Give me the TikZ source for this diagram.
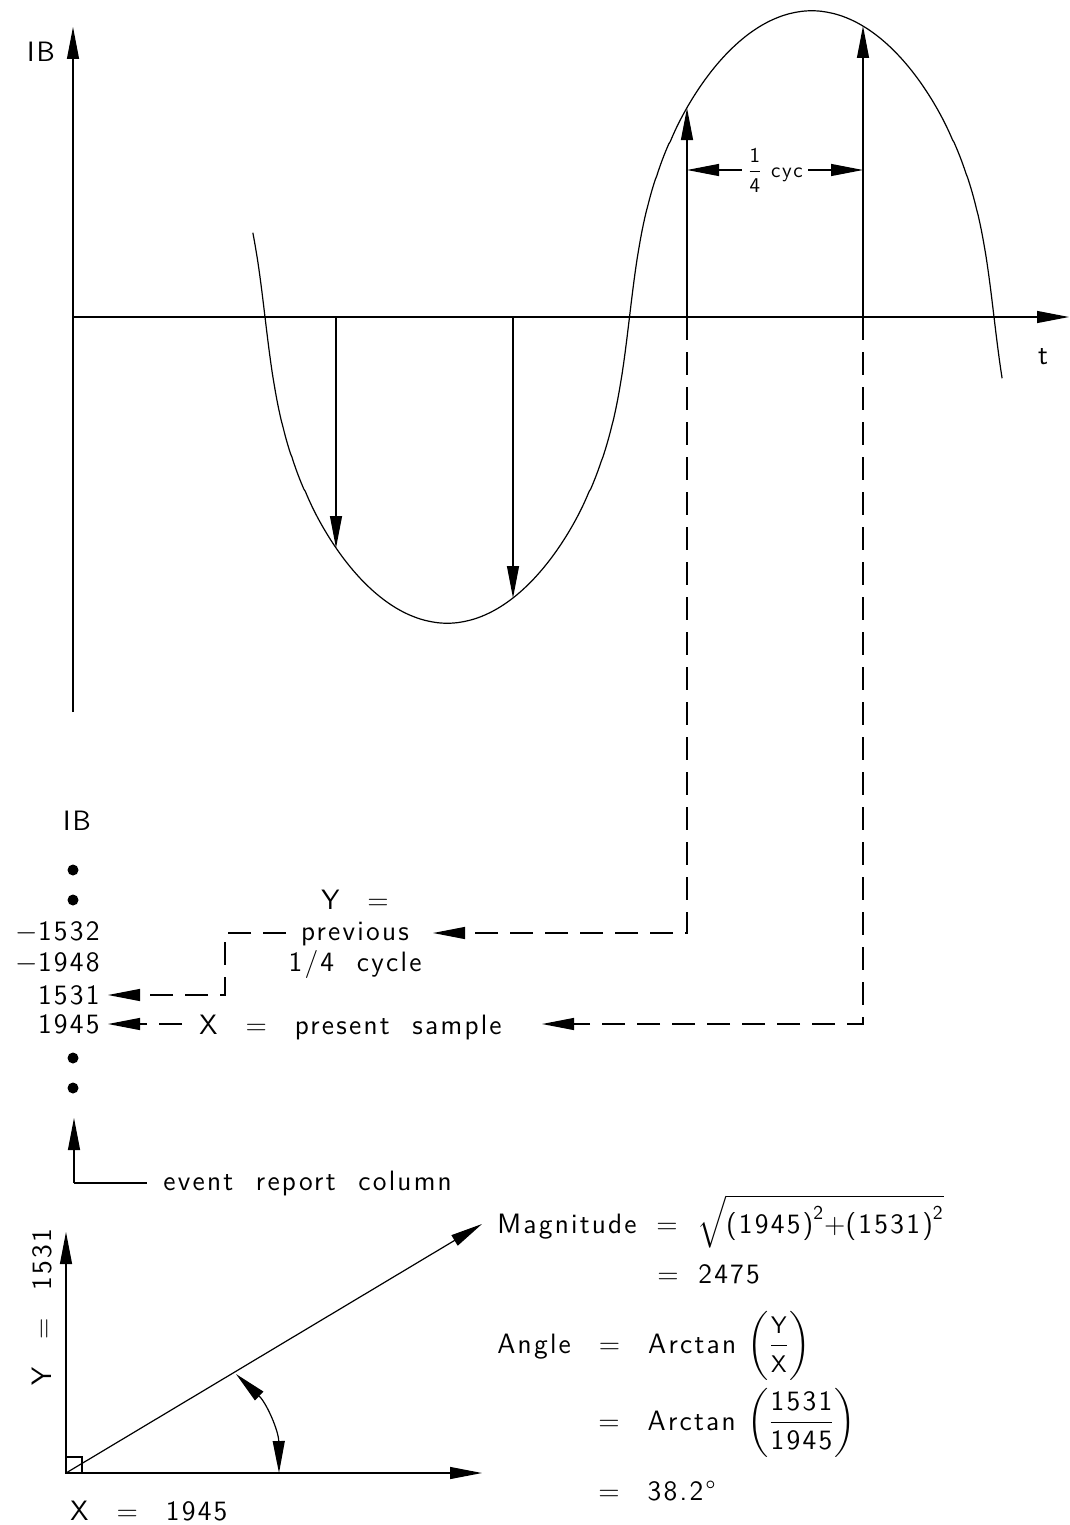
\documentclass[tikz,border=0pt]{standalone}
\usepackage{amsmath}
\usepackage{fontspec}
\setmainfont{Latin Modern Sans}[LetterSpace=8]
\usetikzlibrary{arrows.meta}

\begin{document}
\begin{tikzpicture}[x=0.5pt,y=-0.5pt,
   >={Triangle[length=16pt,width=6pt]},
   line/.style={line width=0.6pt},
   dashline/.style={line,dash pattern=on 11.5pt off 6pt},
   lbl/.style={inner sep=0pt,font=\fontsize{14}{15.5}\selectfont},
   dot/.style={circle,fill,inner sep=0pt,minimum size=5.5pt}
]
   \useasboundingbox (0,0) rectangle (1070,1525);

   % axes of the waveform
   \coordinate (o) at (73,317);
   \coordinate (ibtop) at (73,27);
   \coordinate (ibbot) at (73,712);
   \coordinate (tend) at (1069,317);
   \draw[line,->] (ibbot) -- (ibtop);
   \draw[line,->] (o) -- (tend);
   \node[lbl] (iblabel) at (41,52) {IB};
   \node[lbl] (tlabel) at (1043,357) {t};

   % waveform
   \draw[line] plot[domain=-6:364,samples=500,variable=\t]
      ({265+2.025*\t},{317+307*sin(\t)/pow(sin(\t)*sin(\t)+0.01,0.25)});

   % samples
   \foreach \n/\x/\y in {1/336/548,2/513/598,3/687/108,4/863/26} {
      \coordinate (a\n) at (\x,317);
      \coordinate (s\n) at (\x,\y);
      \draw[line,->] (a\n) -- (s\n);
   }

   % quarter cycle
   \node[font=\fontsize{10.5}{12}\selectfont,inner sep=2.5pt] (cyc) at (775,170)
      {$\dfrac{\text{1}}{\text{4}}$ cyc};
   \coordinate (c3) at (687,170);
   \coordinate (c4) at (863,170);
   \draw[line,->] (cyc.west) -- (c3);
   \draw[line,->] (cyc.east) -- (c4);

   % event report column
   \node[lbl] (ibcol) at (77,821) {IB};
   \foreach \y in {870,900,1058,1088}
      \node[dot] (d\y) at (73,\y) {};
   \node[lbl,anchor=east] (v1) at (100,932) {$-$1532};
   \node[lbl,anchor=east] (v2) at (100,963) {$-$1948};
   \node[lbl,anchor=east] (v3) at (100,995) {1531};
   \node[lbl,anchor=east] (v4) at (100,1024) {1945};
   \coordinate (n3) at (108,995);
   \coordinate (n4) at (108,1024);

   \node[lbl,align=center] (prev) at (355,934) {Y\quad=\\previous\\1/4\ \ cycle};
   \node[lbl,anchor=base west] (xlab) at (199,1034) {X\quad=\quad present\ \ sample};

   \coordinate (ytip) at (433,933);
   \coordinate (xtip) at (542,1024);
   \draw[dashline,->] (a3) |- (ytip);
   \draw[dashline,->] (a4) |- (xtip);
   \coordinate (yb) at (286,933);
   \coordinate (yc) at (225,995);
   \coordinate (xb) at (182,1024);
   \draw[dashline,->] (yb) -| (yc) -- (n3);
   \draw[dashline,->] (xb) -- (n4);

   \coordinate (ev) at (74,1183);
   \coordinate (evtip) at (74,1118);
   \coordinate (evend) at (147,1183);
   \draw[line,->] (ev) -- (evtip);
   \draw[line] (ev) -- (evend);
   \node[lbl,anchor=base west] (evtext) at (163,1190) {event\ \ report\ \ column};

   % phasor
   \coordinate (p0) at (66,1473);
   \coordinate (py) at (66,1232);
   \coordinate (px) at (482,1473);
   \coordinate (pv) at (482,1224);
   \draw[line,->] (p0) -- (py);
   \draw[line,->] (p0) -- (px);
   \draw[line,->] (p0) -- (pv);
   \draw[line] (p0) rectangle ++(16,-16);
   \coordinate (arcv) at (236,1374);
   \coordinate (arcx) at (279,1473);
   \draw[line,<->] (arcv) to[bend left=23] (arcx);
   \node[lbl,rotate=90] (ylab) at (42,1307) {Y\quad=\quad1531};
   \node[lbl,anchor=base west] (xval) at (70,1520) {X\quad=\quad1945};

   % formulas
   \node[lbl,anchor=base west] (mag) at (497,1233)
      {Magnitude\hspace{0.7em}=\hspace{0.7em}$\sqrt{\text{(1945)}^{\text{2}}{\text{+}}\text{(1531)}^{\text{2}}}$};
   \node[lbl,anchor=base west] (mag2) at (657,1283) {=\hspace{0.7em}2475};
   \node[lbl,anchor=base west] (ang) at (497,1353)
      {Angle\quad=\quad Arctan\ $\left(\dfrac{\text{\fontsize{12}{12}\selectfont Y}}{\text{\fontsize{12}{12}\selectfont X}}\right)$};
   \node[lbl,anchor=base west] (ang2) at (598,1430)
      {=\quad Arctan\ $\left(\dfrac{\text{1531}}{\text{1945}}\right)$};
   \node[lbl,anchor=base west] (ang3) at (598,1500) {=\quad38.2°};
\end{tikzpicture}
\end{document}
